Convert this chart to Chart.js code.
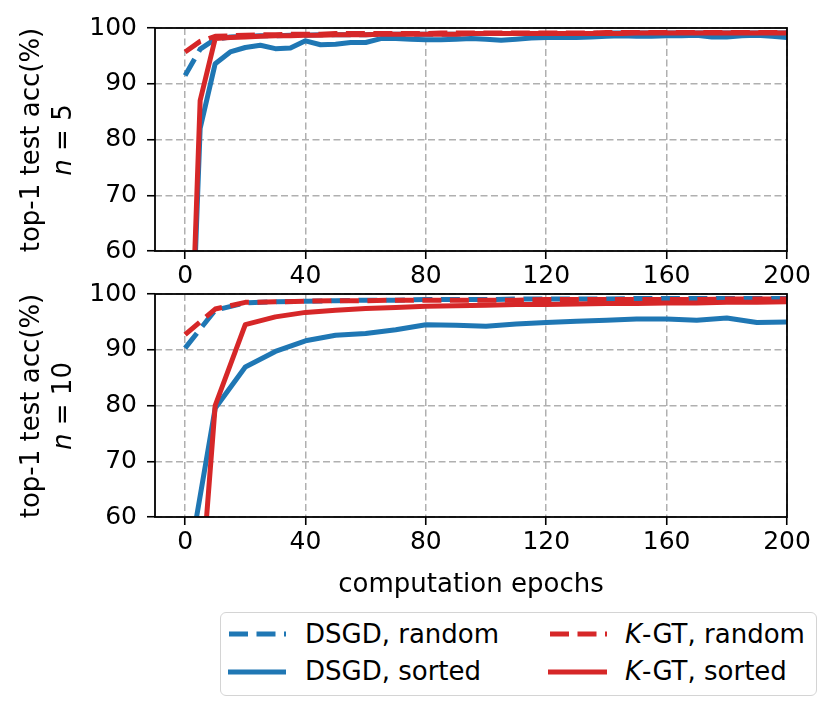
<!DOCTYPE html>
<html><head><meta charset="utf-8">
<script src="https://cdn.jsdelivr.net/npm/chart.js@4.4.0/dist/chart.umd.min.js"></script>
<style>
html,body{margin:0;padding:0;background:#fff;}
#wrap{position:relative;width:831px;height:711px;overflow:hidden;font-family:"DejaVu Sans",sans-serif;color:#000;}
canvas{position:absolute;left:0;top:0;}
.t{position:absolute;font-size:26px;line-height:30px;white-space:nowrap;}
.rot{transform:translate(-50%,-50%) rotate(-90deg);}
#legend{position:absolute;left:220px;top:612px;width:595px;height:82px;border:1.5px solid #d4d4d4;border-radius:6px;background:#fff;}
svg{position:absolute;left:0;top:0;}
</style></head><body>
<div id="wrap">
<canvas id="c1" width="831" height="711"></canvas>
<canvas id="c2" width="831" height="711"></canvas>
<div class="t rot" style="left:29.5px;top:139.5px">top-1 test acc(%)</div>
<div class="t rot" style="left:62px;top:139.5px"><i>n</i> = 5</div>
<div class="t rot" style="left:29.5px;top:405.5px">top-1 test acc(%)</div>
<div class="t rot" style="left:62px;top:405.5px"><i>n</i> = 10</div>
<div class="t" style="left:471px;top:568px;transform:translateX(-50%)">computation epochs</div>
<div id="legend"></div>
<svg width="831" height="711">
  <line x1="229" y1="634" x2="286" y2="634" stroke="#1f77b4" stroke-width="5" stroke-dasharray="19 8.5"/>
  <line x1="228" y1="672" x2="286" y2="672" stroke="#1f77b4" stroke-width="5"/>
  <line x1="550" y1="634" x2="607" y2="634" stroke="#d62728" stroke-width="5" stroke-dasharray="19 8.5"/>
  <line x1="548" y1="672" x2="607" y2="672" stroke="#d62728" stroke-width="5"/>
</svg>
<div class="t" style="left:305px;top:619px">DSGD, random</div>
<div class="t" style="left:305px;top:656px">DSGD, sorted</div>
<div class="t" style="left:625px;top:619px"><i>K</i>-GT, random</div>
<div class="t" style="left:625px;top:656px"><i>K</i>-GT, sorted</div>
</div>
<script>
// ---- tick labels ----
const xTicks = [0, 40, 80, 120, 160, 200];
const yTicks = [60, 70, 80, 90, 100];

// ---- top panel (n = 5), every 5 epochs ----
const epochsTop = [0,5,10,15,20,25,30,35,40,45,50,55,60,65,70,75,80,85,90,95,100,105,110,115,120,125,130,135,140,145,150,155,160,165,170,175,180,185,190,195,200];
const dsgdRandomTop = [91.5,96.2,98.0,98.4,98.5,98.6,98.6,98.7,98.7,98.8,98.8,98.8,98.8,98.9,98.9,98.9,98.9,98.9,98.9,99.0,99.0,99.0,99.0,99.0,99.0,99.0,99.0,99.0,99.1,99.1,99.1,99.1,99.1,99.1,99.1,99.1,99.1,99.1,99.1,99.1,99.1];
const dsgdSortedTop = [10,82,93.6,95.7,96.5,96.9,96.3,96.4,97.7,97.0,97.1,97.4,97.4,98.1,98.1,98.0,97.9,97.9,98.0,98.1,98.0,97.8,98.0,98.2,98.3,98.3,98.3,98.4,98.5,98.6,98.5,98.5,98.6,98.6,98.7,98.4,98.4,98.6,98.7,98.5,98.3];
const kgtRandomTop = [95.7,97.6,98.5,98.6,98.7,98.8,98.8,98.9,98.9,98.9,99.0,99.0,99.0,99.0,99.0,99.0,99.0,99.1,99.1,99.1,99.1,99.1,99.1,99.1,99.1,99.1,99.1,99.1,99.2,99.2,99.2,99.2,99.2,99.2,99.2,99.2,99.2,99.2,99.2,99.2,99.2];
const kgtSortedTop = [10,87,98.1,98.3,98.4,98.5,98.6,98.6,98.7,98.7,98.8,98.8,98.8,98.9,98.9,98.9,98.9,98.9,98.9,99.0,99.0,99.0,99.0,99.0,99.0,99.0,99.0,99.0,99.0,99.0,99.1,99.1,99.1,99.1,99.1,99.1,99.1,99.1,99.1,99.1,99.1];

// ---- bottom panel (n = 10), every 10 epochs ----
const epochsBottom = [0,10,20,30,40,50,60,70,80,90,100,110,120,130,140,150,160,170,180,190,200];
const dsgdRandomBottom = [90.3,97.1,98.4,98.6,98.7,98.8,98.9,98.9,99.0,99.0,99.0,99.1,99.1,99.1,99.1,99.2,99.2,99.2,99.2,99.2,99.2];
const dsgdSortedBottom = [48,79.5,86.9,89.7,91.6,92.6,92.9,93.6,94.5,94.4,94.2,94.6,94.9,95.1,95.3,95.5,95.5,95.3,95.7,94.9,95.0];
const kgtRandomBottom = [92.7,97.3,98.5,98.6,98.7,98.8,98.8,98.9,98.9,98.9,98.9,98.9,99.0,99.0,99.0,99.0,99.0,99.0,99.1,99.1,99.1];
const kgtSortedBottom = [10,80,94.5,95.9,96.7,97.1,97.4,97.6,97.8,97.9,98.0,98.1,98.1,98.2,98.3,98.3,98.4,98.4,98.5,98.5,98.6];

const BLUE = '#1f77b4', RED = '#d62728';
const DASH = [19, 8.5];
const FONT = {family: 'DejaVu Sans', size: 25};

const frame = {
  id: 'frame',
  afterDraw(chart) {
    const a = chart.chartArea, ctx = chart.ctx;
    ctx.save();
    ctx.strokeStyle = '#000';
    ctx.lineWidth = 1.8;
    ctx.setLineDash([]);
    ctx.strokeRect(a.left, a.top, a.right - a.left, a.bottom - a.top);
    ctx.restore();
  }
};

function panel(id, epochs, series, padTop, padBottom) {
  const datasets = series.map(s => ({
    label: s.label,
    data: epochs.map((e, i) => ({x: e, y: s.values[i]})),
    borderColor: s.color,
    borderWidth: 5,
    borderDash: s.dash,
    borderCapStyle: 'butt',
    borderJoinStyle: 'round',
    pointRadius: 0,
    tension: 0,
    fill: false,
    clip: 0,
    order: s.order
  }));
  const grid = {
    color: '#b0b0b0', lineWidth: 1.5, borderDash: [7, 3.5],
    tickColor: '#000', tickLength: 8, tickWidth: 1.6, tickBorderDash: []
  };
  const border = {display: false, dash: [7, 3.5]};
  new Chart(document.getElementById(id), {
    type: 'line',
    data: {datasets},
    options: {
      responsive: false, animation: false, devicePixelRatio: 1,
      layout: {padding: {left: 0, right: 44, top: padTop, bottom: padBottom}},
      plugins: {legend: {display: false}, tooltip: {enabled: false}},
      scales: {
        x: {
          type: 'linear', min: -10, max: 200,
          afterBuildTicks: s => { s.ticks = xTicks.map(v => ({value: v})); },
          afterFit: s => { s.height = 39; },
          grid, border,
          ticks: {font: FONT, color: '#000', padding: 2, maxRotation: 0, autoSkip: false}
        },
        y: {
          type: 'linear', min: 60, max: 100,
          afterBuildTicks: s => { s.ticks = yTicks.map(v => ({value: v})); },
          afterFit: s => { s.width = 155; },
          grid, border,
          ticks: {font: FONT, color: '#000', padding: 10, autoSkip: false}
        }
      }
    },
    plugins: [frame]
  });
}

panel('c1', epochsTop, [
  {label: 'DSGD, random', values: dsgdRandomTop, color: BLUE, dash: DASH, order: 4},
  {label: 'DSGD, sorted', values: dsgdSortedTop, color: BLUE, dash: [], order: 3},
  {label: 'K-GT, random', values: kgtRandomTop, color: RED, dash: DASH, order: 2},
  {label: 'K-GT, sorted', values: kgtSortedTop, color: RED, dash: [], order: 1}
], 28, 421);

panel('c2', epochsBottom, [
  {label: 'DSGD, random', values: dsgdRandomBottom, color: BLUE, dash: DASH, order: 4},
  {label: 'DSGD, sorted', values: dsgdSortedBottom, color: BLUE, dash: [], order: 3},
  {label: 'K-GT, random', values: kgtRandomBottom, color: RED, dash: DASH, order: 2},
  {label: 'K-GT, sorted', values: kgtSortedBottom, color: RED, dash: [], order: 1}
], 294, 155);
</script>
</body></html>
